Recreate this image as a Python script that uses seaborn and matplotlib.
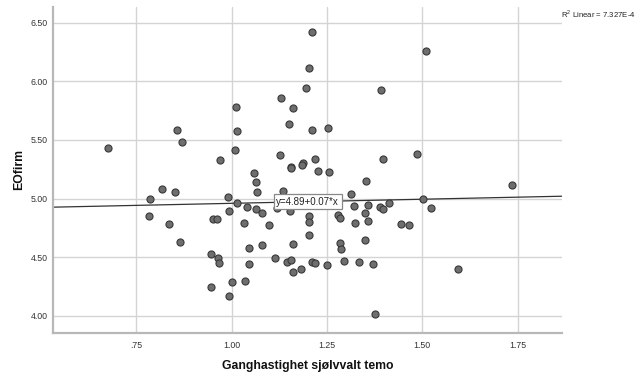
import numpy as np
import pandas as pd
import matplotlib
matplotlib.use("Agg")
import matplotlib.pyplot as plt
import seaborn as sns

# Self-selected walking speed and EOfirm score per participant
ganghastighet = [
    0.676, 0.856, 0.870, 1.013, 1.015, 1.009, 0.971, 1.210, 1.202, 1.196,
    1.130, 1.162, 1.150, 1.212, 1.254, 1.391, 1.510, 1.128, 1.220, 1.396,
    1.486, 1.156, 1.157, 1.187, 1.185, 1.060, 1.063, 1.066, 1.136, 0.992,
    1.226, 1.256, 1.352, 1.314, 1.501, 1.014, 0.994, 1.040, 1.063, 1.081,
    1.118, 0.952, 0.961, 1.033, 1.098, 0.866, 1.046, 1.081, 1.162, 0.947,
    0.965, 0.968, 1.046, 1.113, 1.145, 1.155, 1.162, 1.182, 0.947, 1.001,
    1.035, 0.994, 1.204, 1.202, 1.204, 1.212, 1.218, 1.249, 1.278, 1.284,
    1.320, 1.357, 1.350, 1.357, 1.324, 1.390, 1.396, 1.412, 1.522, 1.443,
    1.465, 1.284, 1.287, 1.349, 1.294, 1.333, 1.371, 1.377, 0.818, 0.851,
    0.787, 0.785, 0.837, 1.736, 1.594, 1.153,
]
eofirm = [
    5.428, 5.587, 5.482, 5.781, 5.576, 5.414, 5.329, 6.418, 6.113, 5.940,
    5.855, 5.770, 5.636, 5.585, 5.602, 5.928, 6.261, 5.374, 5.340, 5.340,
    5.380, 5.270, 5.262, 5.305, 5.283, 5.215, 5.143, 5.058, 5.064, 5.010,
    5.235, 5.224, 5.152, 5.041, 4.997, 4.959, 4.893, 4.930, 4.913, 4.879,
    4.916, 4.823, 4.823, 4.794, 4.771, 4.631, 4.580, 4.609, 4.614, 4.526,
    4.492, 4.452, 4.447, 4.490, 4.456, 4.473, 4.373, 4.398, 4.247, 4.288,
    4.296, 4.174, 4.853, 4.797, 4.689, 4.458, 4.452, 4.435, 4.862, 4.831,
    4.936, 4.947, 4.879, 4.808, 4.791, 4.925, 4.908, 4.964, 4.921, 4.782,
    4.771, 4.623, 4.569, 4.648, 4.469, 4.456, 4.439, 4.015, 5.084, 5.056,
    4.996, 4.851, 4.788, 5.115, 4.396, 4.893,
]

# Linear fit
intercept = 4.89
slope = 0.07
r2_text = "R$^2$ Linear = 7.327E-4"
fit_label = "y=4.89+0.07*x"

x_ticks = [0.75, 1.00, 1.25, 1.50, 1.75]
x_tick_labels = [".75", "1.00", "1.25", "1.50", "1.75"]
y_ticks = [4.00, 4.50, 5.00, 5.50, 6.00, 6.50]
y_tick_labels = ["4.00", "4.50", "5.00", "5.50", "6.00", "6.50"]

df = pd.DataFrame({"Ganghastighet sjølvvalt temo": ganghastighet, "EOfirm": eofirm})

sns.set_style("white")
plt.rcParams["font.family"] = ["Liberation Sans", "DejaVu Sans"]
plt.rcParams["mathtext.fontset"] = "custom"
plt.rcParams["mathtext.rm"] = "Liberation Sans"

fig = plt.figure(figsize=(6.39, 3.78), dpi=100)
ax = fig.add_axes([0.0837, 0.1198, 0.7958, 0.8624])

xlim = (0.5335, 1.866)
ylim = (3.857, 6.636)
ax.set_xlim(*xlim)
ax.set_ylim(*ylim)

sns.scatterplot(data=df, x="Ganghastighet sjølvvalt temo", y="EOfirm", ax=ax,
                s=26, color="#6e6e6e", edgecolor="#383838", linewidth=0.8,
                zorder=3)

xs = np.array(xlim)
ax.plot(xs, intercept + slope * xs, color="#333333", linewidth=0.9, zorder=2)

x_lab = 1.20
ax.text(x_lab, intercept + slope * x_lab, fit_label, fontsize=7.0,
        ha="center", va="center", color="#222222", zorder=4,
        bbox=dict(boxstyle="square,pad=0.25", facecolor="white",
                  edgecolor="#888888", linewidth=0.9))

ax.set_xticks(x_ticks)
ax.set_xticklabels(x_tick_labels)
ax.set_yticks(y_ticks)
ax.set_yticklabels(y_tick_labels)
ax.tick_params(axis="both", length=0, labelsize=6.3, labelcolor="#333333")
ax.tick_params(axis="x", pad=6)
ax.tick_params(axis="y", pad=4)

ax.grid(True, color="#d4d4d4", linewidth=1.0)
ax.set_axisbelow(True)
for side in ("top", "right"):
    ax.spines[side].set_visible(False)
for side in ("left", "bottom"):
    ax.spines[side].set_color("#b8b8b8")
    ax.spines[side].set_linewidth(1.6)

ax.set_xlabel("Ganghastighet sjølvvalt temo", fontsize=8.8, fontweight="bold",
              color="#111111")
ax.set_ylabel("EOfirm", fontsize=8.8, fontweight="bold", color="#111111")
ax.xaxis.set_label_coords(0.5, -0.084)
ax.yaxis.set_label_coords(-0.056, 0.5)

fig.text(561 / 639, 1 - 14 / 378, r2_text, fontsize=5.6, ha="left",
         va="center", color="#222222")

fig.savefig("out.png", dpi=100)
